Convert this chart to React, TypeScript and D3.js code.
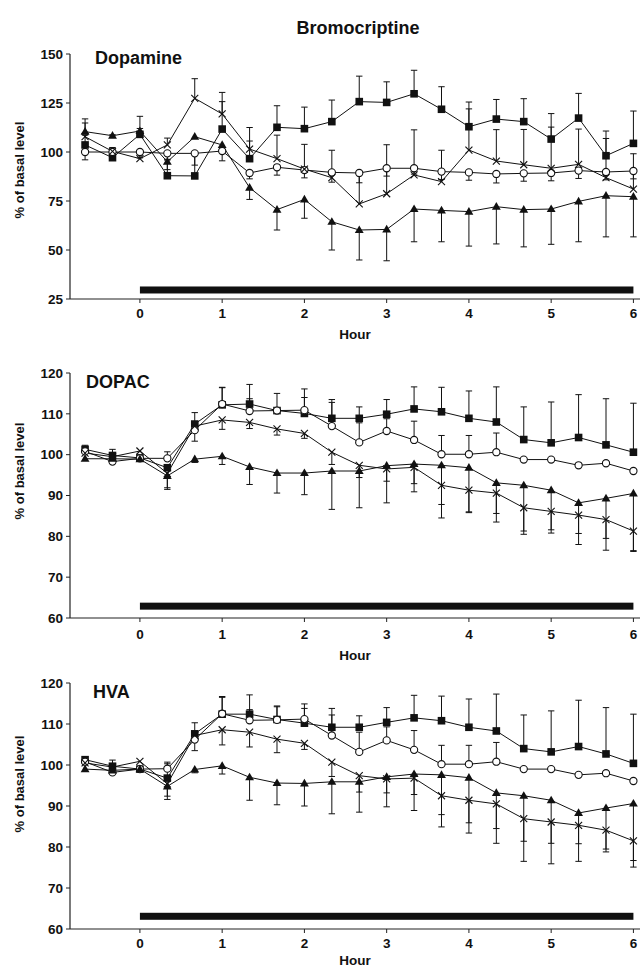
import React from 'react';
import * as d3 from 'd3';

// sampling times (hours relative to drug start)
const hours = [-2 / 3, -1 / 3, 0, 1 / 3, 2 / 3, 1, 4 / 3, 5 / 3, 2, 7 / 3, 8 / 3, 3, 10 / 3, 11 / 3, 4, 13 / 3, 14 / 3, 5, 16 / 3, 17 / 3, 6];
const hourTicks = [0, 1, 2, 3, 4, 5, 6];

// Dopamine (% of basal), errors: + up, - down, 0 = none
const daSquare = [103.6, 97.1, 109, 87.9, 87.8, 111.7, 96.6, 112.6, 111.9, 115.5, 125.7, 125.3, 129.7, 121.8, 112.9, 116.8, 115.5, 106.6, 117.3, 98.1, 104.4];
const daSquareErr = [5, 3, 3, 8, 11, 14, 9, 11, 11, 11, 13, 10.5, 12, 11.5, 12.6, 10, 11.7, 13, 12.6, 12.6, 16.5];
const daCircle = [100, 100, 100, 99.3, 99.3, 100.5, 89.3, 92.2, 90.8, 89.6, 89.3, 91.7, 91.7, 90, 89.6, 88.8, 89.1, 89.3, 90.5, 89.8, 90.3];
const daCircleErr = [-4, -3, -3, -3, -6, -5, -3, -4, -4, -5, -5, -4, -3, -4, -4, -4.6, -4, -4, -4, -4, -4];
const daCross = [107.8, 100.3, 96.6, 103.6, 127.4, 119.4, 101.5, 96.6, 91.3, 86.9, 73.5, 78.7, 88.3, 84.9, 101, 95.4, 93.5, 91.7, 93.7, 86.9, 81.1];
const daCrossErr = [7, 2, 3, 3.5, 10, 11, 11, 12, 12.6, 14, 16, 25, 23, 16, 21, 16, 18, 21, 18, 20, 18];
const daTriangle = [110.4, 108.3, 110.7, 95, 107.8, 103.6, 81.8, 70.6, 75.8, 64.4, 60.2, 60.5, 70.9, 70.2, 69.6, 72.1, 70.6, 70.9, 74.8, 77.7, 77.2];
const daTriangleErr = [6.5, 0.5, 7.5, -4, 0, 0, -6, -10.4, -9.6, -14.4, -15.3, -16, -16.7, -16, -17.6, -19, -19, -18, -20.6, -21, -20.5];

// DOPAC
const dcSquare = [101.3, 99.8, 99.2, 96.8, 107.5, 112.2, 112.4, 110.8, 110.1, 108.9, 108.9, 109.9, 111.2, 110.5, 108.9, 108, 103.7, 102.9, 104.2, 102.4, 100.6];
const dcSquareErr = [1, 1.5, 0, 0, 2.8, 4.3, 4.8, 4.2, 6, 4.6, 2.8, 3.6, 5.4, 6, 6.7, 8.6, 8, 10, 10.5, 11.3, 12];
const dcCircle = [100.8, 98.3, 99.1, 99.1, 106, 112.4, 110.7, 110.8, 110.9, 107, 103, 105.8, 103.6, 100.1, 100.1, 100.6, 98.8, 98.8, 97.4, 97.9, 96];
const dcCircleErr = [0, 0, 0, 1.6, -2.7, 4, 3, 0, 3.1, 5.8, 4.8, 3, 4.6, 4.6, 4.6, 4.7, 0, 0, 0, 0, 0];
const dcCross = [100.4, 99.5, 100.9, 95.4, 107, 108.5, 107.9, 106.3, 105.2, 100.6, 97.4, 96.5, 96.9, 92.5, 91.3, 90.6, 87, 86.1, 85.2, 84.1, 81.3];
const dcCrossErr = [0, 0, 0, -3.5, 0, -2.3, -1.5, -1.5, -1.2, -3, -3, -3, -4, -4.7, -5.3, -5, -5.7, -4.5, -4.5, -4.6, -5];
const dcTriangle = [99, 99, 98.9, 94.8, 98.9, 99.6, 97, 95.5, 95.5, 96, 96, 97.3, 97.7, 97.4, 96.8, 93.1, 92.5, 91.3, 88.2, 89.3, 90.5];
const dcTriangleErr = [0, 0, 0, -3.3, -0.8, -2, -4.3, -4.9, -5.3, -9.4, -9, -9.1, -6.8, -12.9, -11, -9.6, -12, -10.5, -10.2, -12.7, -14];

// HVA
const hvSquare = [101.3, 99.7, 99, 96.8, 107.6, 112.4, 112.4, 111.1, 110.2, 109.2, 109.2, 110.4, 111.5, 110.8, 109.2, 108.3, 104, 103.2, 104.5, 102.7, 100.4];
const hvSquareErr = [0, 1.5, 0, 3.5, 2.7, 4.3, 4.7, 3.3, 4.7, 4.6, 2.8, 3.6, 5.5, 6, 6.9, 9, 8.2, 10, 11.3, 11.3, 12];
const hvCircle = [100.8, 98.2, 99, 99.1, 106.2, 112.5, 110.9, 111, 111.2, 107.2, 103.2, 106, 103.7, 100.2, 100.2, 100.8, 99, 99, 97.6, 98, 96.1];
const hvCircleErr = [0, 0, 0, 1.6, -2.7, 4, 2.6, 3.2, 2.6, 5, 4.8, 3.3, 4.7, 4.6, 4.6, 4.7, 0, 0, 0, 0, 0];
const hvCross = [100.5, 99.5, 100.9, 95.4, 107.2, 108.6, 108, 106.3, 105.3, 100.7, 97.4, 96.6, 96.8, 92.5, 91.4, 90.5, 86.9, 86.1, 85.3, 84.1, 81.5];
const hvCrossErr = [0, 0, 0, -3, 0, -3.7, -3.6, -3.3, -1.5, -3.5, -4, -3.4, -4, -4.6, -5.5, -6, -5.5, -5.2, -4.5, -4.6, -4.8];
const hvTriangle = [99, 98.7, 99, 94.8, 98.9, 99.8, 97, 95.6, 95.5, 95.9, 95.9, 97.1, 97.8, 97.6, 96.9, 93.2, 92.5, 91.4, 88.3, 89.5, 90.6];
const hvTriangleErr = [0, 0, 0, -3.2, -0.8, -2, -5.6, -5.3, -5.5, -7.8, -7.4, -7.3, -8.9, -12.7, -13.5, -12.3, -16, -15.5, -11.8, -10.7, -15.5];

const daTicks = [25, 50, 75, 100, 125, 150];
const metTicks = [60, 70, 80, 90, 100, 110, 120];

const FONT = '"Liberation Sans", Arial, Helvetica, sans-serif';
const INK = '#111';

const panels = [
  {
    name: 'Dopamine', top: 54, bottom: 299, domain: [25, 150], ticks: daTicks, barValue: 29.6,
    labelX: 95, labelY: 64, yLabelY: 170, tickDy: 14, hourDy: 35,
    series: [
      { shape: 'square', v: daSquare, e: daSquareErr },
      { shape: 'circle', v: daCircle, e: daCircleErr },
      { shape: 'cross', v: daCross, e: daCrossErr },
      { shape: 'triangle', v: daTriangle, e: daTriangleErr },
    ],
  },
  {
    name: 'DOPAC', top: 373, bottom: 618, domain: [60, 120], ticks: metTicks, barValue: 62.9,
    labelX: 86, labelY: 388, yLabelY: 471, tickDy: 16, hourDy: 37,
    series: [
      { shape: 'square', v: dcSquare, e: dcSquareErr },
      { shape: 'circle', v: dcCircle, e: dcCircleErr },
      { shape: 'cross', v: dcCross, e: dcCrossErr },
      { shape: 'triangle', v: dcTriangle, e: dcTriangleErr },
    ],
  },
  {
    name: 'HVA', top: 683, bottom: 929, domain: [60, 120], ticks: metTicks, barValue: 63.1,
    labelX: 93, labelY: 698, yLabelY: 784, tickDy: 14, hourDy: 31,
    series: [
      { shape: 'square', v: hvSquare, e: hvSquareErr },
      { shape: 'circle', v: hvCircle, e: hvCircleErr },
      { shape: 'cross', v: hvCross, e: hvCrossErr },
      { shape: 'triangle', v: hvTriangle, e: hvTriangleErr },
    ],
  },
];

const x = d3.scaleLinear().domain([-0.85, 6.08]).range([70, 640]);
const triPath = d3.symbol(d3.symbolTriangle, 34)() as string;

function Marker({ shape, cx, cy }: { shape: string; cx: number; cy: number }) {
  if (shape === 'square') return <rect x={cx - 3.8} y={cy - 3.8} width={7.6} height={7.6} fill={INK} />;
  if (shape === 'circle') return <circle cx={cx} cy={cy} r={3.6} fill="#fff" stroke={INK} strokeWidth={1.1} />;
  if (shape === 'triangle') return <path d={triPath} transform={`translate(${cx},${cy + 0.5})`} fill={INK} />;
  return (
    <g stroke={INK} strokeWidth={1.1}>
      <line x1={cx - 3.5} y1={cy - 3.5} x2={cx + 3.5} y2={cy + 3.5} />
      <line x1={cx - 3.5} y1={cy + 3.5} x2={cx + 3.5} y2={cy - 3.5} />
    </g>
  );
}

function Panel({ p }: { p: any }) {
  const y = d3.scaleLinear().domain(p.domain).range([p.bottom, p.top]);
  const line = d3.line<number>().x((_, i) => x(hours[i])).y(d => y(d));
  const x0 = x.range()[0];
  const x1 = x.range()[1];
  const midX = (x0 + x1) / 2;

  return (
    <g>
      {/* axes */}
      <line x1={x0} y1={p.top} x2={x0} y2={p.bottom} stroke="#222" strokeWidth={1.2} />
      <line x1={x0} y1={p.bottom} x2={x1} y2={p.bottom} stroke="#222" strokeWidth={1.2} />
      {p.ticks.map((t: number) => (
        <g key={t}>
          <line x1={x0 - 4} x2={x0} y1={y(t)} y2={y(t)} stroke="#222" />
          <text x={x0 - 7} y={y(t)} dy="0.35em" textAnchor="end" fontSize={13.5} fontWeight="bold" fontFamily={FONT} fill={INK}>{t}</text>
        </g>
      ))}
      {hourTicks.map(h => (
        <g key={h}>
          <line x1={x(h)} x2={x(h)} y1={p.bottom} y2={p.bottom + 4} stroke="#222" />
          <text x={x(h)} y={p.bottom + p.tickDy} dy="0.35em" textAnchor="middle" fontSize={13.5} fontWeight="bold" fontFamily={FONT} fill={INK}>{h}</text>
        </g>
      ))}
      <text x={midX} y={p.bottom + p.hourDy} dy="0.35em" textAnchor="middle" fontSize={13.5} fontWeight="bold" fontFamily={FONT} fill={INK}>Hour</text>
      <text transform={`translate(19,${p.yLabelY}) rotate(-90)`} textAnchor="middle" dy="0.35em" fontSize={13} fontWeight="bold" fontFamily={FONT} fill={INK}>% of basal level</text>
      <text x={p.labelX} y={p.labelY} fontSize={18} fontWeight="bold" fontFamily={FONT} fill={INK}>{p.name}</text>

      {/* treatment bar */}
      <rect x={x(0)} y={y(p.barValue) - 3.5} width={x(6) - x(0)} height={7} fill={INK} />

      {/* lines */}
      {p.series.map((s: any) => (
        <path key={s.shape} d={line(s.v) as string} fill="none" stroke={INK} strokeWidth={1} />
      ))}

      {/* error bars */}
      {p.series.map((s: any) =>
        s.v.map((v: number, i: number) => {
          const e = s.e[i];
          if (!e) return null;
          const cx = x(hours[i]);
          const yEnd = y(v + e);
          return (
            <g key={s.shape + i} stroke={INK} strokeWidth={1}>
              <line x1={cx} x2={cx} y1={y(v)} y2={yEnd} />
              <line x1={cx - 3.2} x2={cx + 3.2} y1={yEnd} y2={yEnd} />
            </g>
          );
        })
      )}

      {/* markers */}
      {p.series.map((s: any) =>
        s.v.map((v: number, i: number) => (
          <Marker key={s.shape + 'm' + i} shape={s.shape} cx={x(hours[i])} cy={y(v)} />
        ))
      )}
    </g>
  );
}

export default function App() {
  return (
    <svg width={642} height={968} style={{ position: 'absolute', left: 0, top: 0, background: '#fff' }}>
      <rect width={642} height={968} fill="#fff" />
      <text x={358} y={28} dy="0.35em" textAnchor="middle" fontSize={18} fontWeight="bold" fontFamily={FONT} fill={INK}>Bromocriptine</text>
      {panels.map(p => <Panel key={p.name} p={p} />)}
    </svg>
  );
}
